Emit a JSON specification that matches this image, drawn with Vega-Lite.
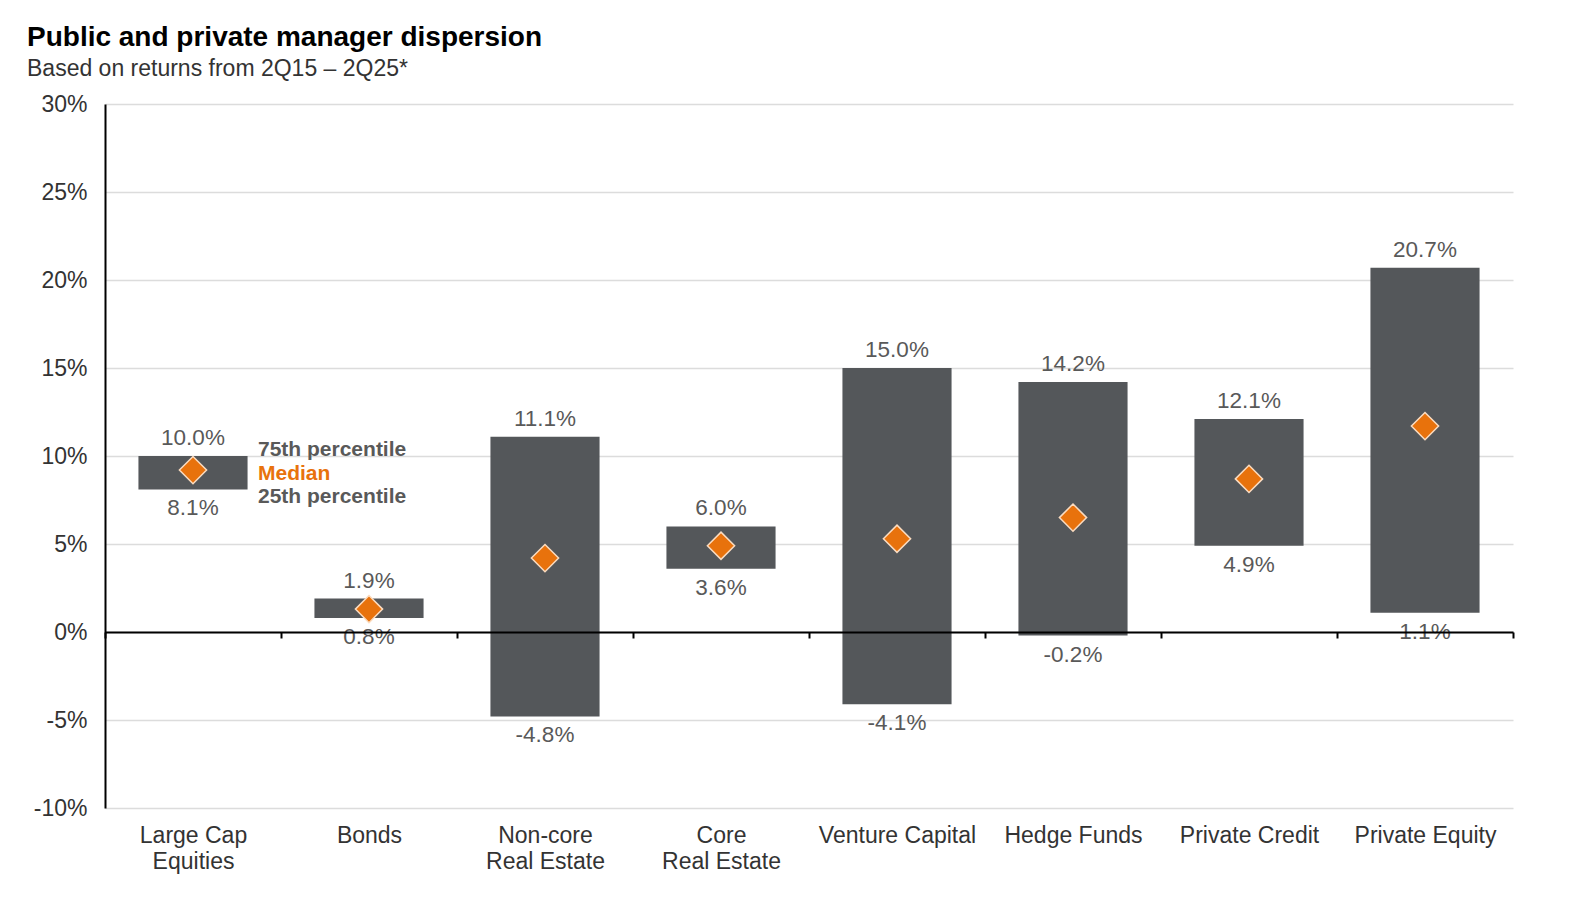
{
  "$schema": "https://vega.github.io/schema/vega-lite/v6.json",
  "width": 1408,
  "height": 704,
  "autosize": {"type": "none"},
  "padding": {"left": 105, "top": 104, "right": 68, "bottom": 92},
  "background": "white",
  "config": {"view": {"stroke": null}, "font": "Liberation Sans"},
  "title": {
    "text": "Public and private manager dispersion",
    "subtitle": "Based on returns from 2Q15 – 2Q25*",
    "anchor": "start",
    "frame": "group",
    "dx": -78,
    "offset": 12,
    "font": "Liberation Sans",
    "fontSize": 28,
    "fontWeight": "bold",
    "color": "#000000",
    "subtitleFont": "Liberation Sans",
    "subtitleFontSize": 23,
    "subtitleColor": "#333333",
    "subtitlePadding": 6
  },
  "data": {
    "values": [
      {"category": "Large Cap Equities", "p25": 8.1, "p75": 10.0, "median": 9.2},
      {"category": "Bonds", "p25": 0.8, "p75": 1.9, "median": 1.3},
      {"category": "Non-core Real Estate", "p25": -4.8, "p75": 11.1, "median": 4.2},
      {"category": "Core Real Estate", "p25": 3.6, "p75": 6.0, "median": 4.9},
      {"category": "Venture Capital", "p25": -4.1, "p75": 15.0, "median": 5.3},
      {"category": "Hedge Funds", "p25": -0.2, "p75": 14.2, "median": 6.5},
      {"category": "Private Credit", "p25": 4.9, "p75": 12.1, "median": 8.7},
      {"category": "Private Equity", "p25": 1.1, "p75": 20.7, "median": 11.7}
    ]
  },
  "transform": [
    {"calculate": "format(datum.p75, '.1f') + '%'", "as": "lab75"},
    {"calculate": "(datum.p25 < 0 ? '-' : '') + format(abs(datum.p25), '.1f') + '%'", "as": "lab25"}
  ],
  "layer": [
    {
      "mark": {"type": "bar", "color": "#54575a", "width": {"band": 0.62}},
      "encoding": {
        "x": {
          "field": "category",
          "type": "nominal",
          "sort": null,
          "scale": {"paddingInner": 0, "paddingOuter": 0},
          "axis": {
            "title": null,
            "orient": "bottom",
            "offset": -176,
            "domainColor": "#000000",
            "domainWidth": 2,
            "tickColor": "#000000",
            "tickWidth": 2,
            "tickSize": 6,
            "tickBand": "extent",
            "labelPadding": 186,
            "labelFontSize": 23,
            "labelColor": "#333333",
            "labelAngle": 0,
            "labelBaseline": "top",
            "labelLineHeight": 26,
            "labelExpr": "datum.label == 'Large Cap Equities' ? ['Large Cap', 'Equities'] : datum.label == 'Non-core Real Estate' ? ['Non-core', 'Real Estate'] : datum.label == 'Core Real Estate' ? ['Core', 'Real Estate'] : datum.label",
            "zindex": 1
          }
        },
        "y": {
          "field": "p25",
          "type": "quantitative",
          "scale": {"domain": [-10, 30], "nice": false},
          "axis": {
            "title": null,
            "values": [-10, -5, 0, 5, 10, 15, 20, 25, 30],
            "labelExpr": "datum.value + '%'",
            "grid": true,
            "gridColor": "#dcdcdc",
            "gridWidth": 1.5,
            "ticks": false,
            "domainColor": "#000000",
            "domainWidth": 2,
            "labelFontSize": 23,
            "labelColor": "#333333",
            "labelPadding": 18
          }
        },
        "y2": {"field": "p75"}
      }
    },
    {
      "mark": {"type": "point", "shape": "diamond", "filled": true, "size": 740, "color": "#e8720c", "stroke": "#fbdcc0", "strokeWidth": 1.5, "opacity": 1},
      "encoding": {
        "x": {"field": "category", "type": "nominal", "sort": null},
        "y": {"field": "median", "type": "quantitative"}
      }
    },
    {
      "mark": {"type": "text", "baseline": "bottom", "dy": -6, "fontSize": 22.5, "color": "#595959"},
      "encoding": {
        "x": {"field": "category", "type": "nominal", "sort": null},
        "y": {"field": "p75", "type": "quantitative"},
        "text": {"field": "lab75"}
      }
    },
    {
      "mark": {"type": "text", "baseline": "top", "dy": 8, "fontSize": 22.5, "color": "#595959"},
      "encoding": {
        "x": {"field": "category", "type": "nominal", "sort": null},
        "y": {"field": "p25", "type": "quantitative"},
        "text": {"field": "lab25"}
      }
    },
    {
      "data": {
        "values": [
          {"category": "Large Cap Equities", "y": 10.35, "text": "75th percentile", "kind": "pct"},
          {"category": "Large Cap Equities", "y": 9.0, "text": "Median", "kind": "med"},
          {"category": "Large Cap Equities", "y": 7.65, "text": "25th percentile", "kind": "pct"}
        ]
      },
      "mark": {"type": "text", "align": "left", "baseline": "middle", "dx": 65, "fontSize": 21, "fontWeight": "bold"},
      "encoding": {
        "x": {"field": "category", "type": "nominal", "sort": null},
        "y": {"field": "y", "type": "quantitative"},
        "text": {"field": "text"},
        "color": {"field": "kind", "type": "nominal", "scale": {"domain": ["pct", "med"], "range": ["#595959", "#e8720c"]}, "legend": null}
      }
    }
  ]
}
